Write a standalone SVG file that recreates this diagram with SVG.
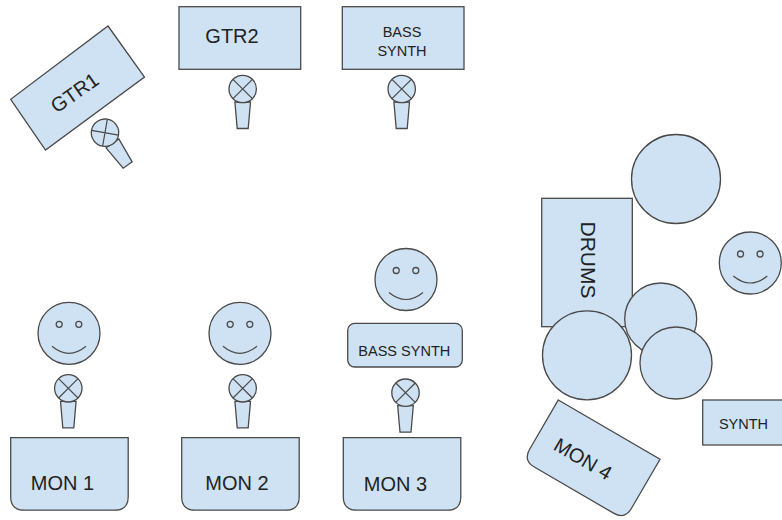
<svg xmlns="http://www.w3.org/2000/svg" xmlns:xlink="http://www.w3.org/1999/xlink" width="782" height="520" viewBox="0 0 782 520">
<style>
.s{fill:#cfe2f3;stroke:#4a4a4a;stroke-width:1.3}
.l{fill:none;stroke:#4a4a4a;stroke-width:1.2}
text{font-family:"Liberation Sans",Arial,sans-serif;fill:#222;text-anchor:middle}
.b{font-size:20px}
.m{font-size:14.500px}
</style>
<defs>
<g id="mic">
<path class="s" d="M-7.800,13 L-5.500,39.500 H5.500 L7.800,13 Z"/>
<circle class="s" cx="0" cy="0" r="13.700"/>
<path class="l" d="M-9.700,-9.700 L9.700,9.700 M9.700,-9.700 L-9.700,9.700"/>
</g>
<g id="face">
<circle class="s" cx="0" cy="0" r="31"/>
<circle class="s" cx="-9.800" cy="-9" r="3"/>
<circle class="s" cx="9.800" cy="-9" r="3"/>
<path class="l" d="M-17,13 Q0,27 17,13"/>
</g>
<path id="mon" class="s" d="M0,0 H117.500 V59 Q117.500,72.500 104,72.500 H13.500 Q0,72.500 0,59 Z"/>
</defs>
<g id="connectors"/>
<g id="gtr1"><polygon class="s" points="108,26 144.500,77 45.500,150 10.700,99.300"/><text class="b" transform="translate(78.500,98.500) rotate(-35)">GTR1</text></g>
<g id="gtr1-mic"><use xlink:href="#mic" href="#mic" transform="translate(105,132.700) rotate(-35)"/></g>
<g id="gtr2"><rect class="s" x="179" y="6.700" width="121.700" height="62.600"/><text class="b" x="232" y="42.700">GTR2</text></g>
<g id="gtr2-mic"><use xlink:href="#mic" href="#mic" transform="translate(242.700,89)"/></g>
<g id="bass-synth-amp"><rect class="s" x="342.300" y="6.700" width="121.700" height="62.600"/><text class="m" x="402" y="36.700">BASS</text><text class="m" x="402" y="55.700">SYNTH</text></g>
<g id="bass-mic"><use xlink:href="#mic" href="#mic" transform="translate(401.700,89)"/></g>
<g id="face1"><use xlink:href="#face" href="#face" transform="translate(69,333.300)"/></g>
<g id="face2"><use xlink:href="#face" href="#face" transform="translate(240,333.300)"/></g>
<g id="face3"><use xlink:href="#face" href="#face" transform="translate(406,279.500)"/></g>
<g id="face4"><use xlink:href="#face" href="#face" transform="translate(750.300,263)"/></g>
<g id="mic1"><use xlink:href="#mic" href="#mic" transform="translate(68.300,388.300)"/></g>
<g id="mic2"><use xlink:href="#mic" href="#mic" transform="translate(242.700,388.300)"/></g>
<g id="mic3"><use xlink:href="#mic" href="#mic" transform="translate(405.500,392.700)"/></g>
<g id="bass-synth"><rect class="s" x="347.700" y="323.300" width="114.600" height="43.700" rx="7"/><text class="m" x="404.300" y="356">BASS SYNTH</text></g>
<g id="mon1"><use xlink:href="#mon" href="#mon" transform="translate(10.700,437.700)"/><text class="b" x="62.500" y="490">MON 1</text></g>
<g id="mon2"><use xlink:href="#mon" href="#mon" transform="translate(181.700,437.700)"/><text class="b" x="237" y="490">MON 2</text></g>
<g id="mon3"><use xlink:href="#mon" href="#mon" transform="translate(343.300,437.700)"/><text class="b" x="395.500" y="490.500">MON 3</text></g>
<g id="mon4"><path class="s" transform="translate(558.300,400) rotate(30.200)" d="M0,0 H117.700 V57 Q117.700,70 104.700,70 H13 Q0,70 0,57 Z"/><text class="b" transform="translate(579.500,465) rotate(30.200)">MON 4</text></g>
<g id="drums"><rect class="s" x="541.700" y="198.300" width="90.600" height="128.400"/><text class="b" style="font-size:21px" transform="translate(581,260) rotate(90)">DRUMS</text></g>
<g id="cym-top"><circle class="s" cx="676" cy="179" r="44.500"/></g>
<g id="tom1"><circle class="s" cx="660.700" cy="319" r="36"/></g>
<g id="tom2"><circle class="s" cx="676" cy="363" r="36"/></g>
<g id="kick"><circle class="s" cx="587" cy="355.300" r="44.500"/></g>
<g id="synth"><rect class="s" x="702.700" y="400" width="82" height="45"/><text class="m" x="743.500" y="429.300">SYNTH</text></g>
</svg>
